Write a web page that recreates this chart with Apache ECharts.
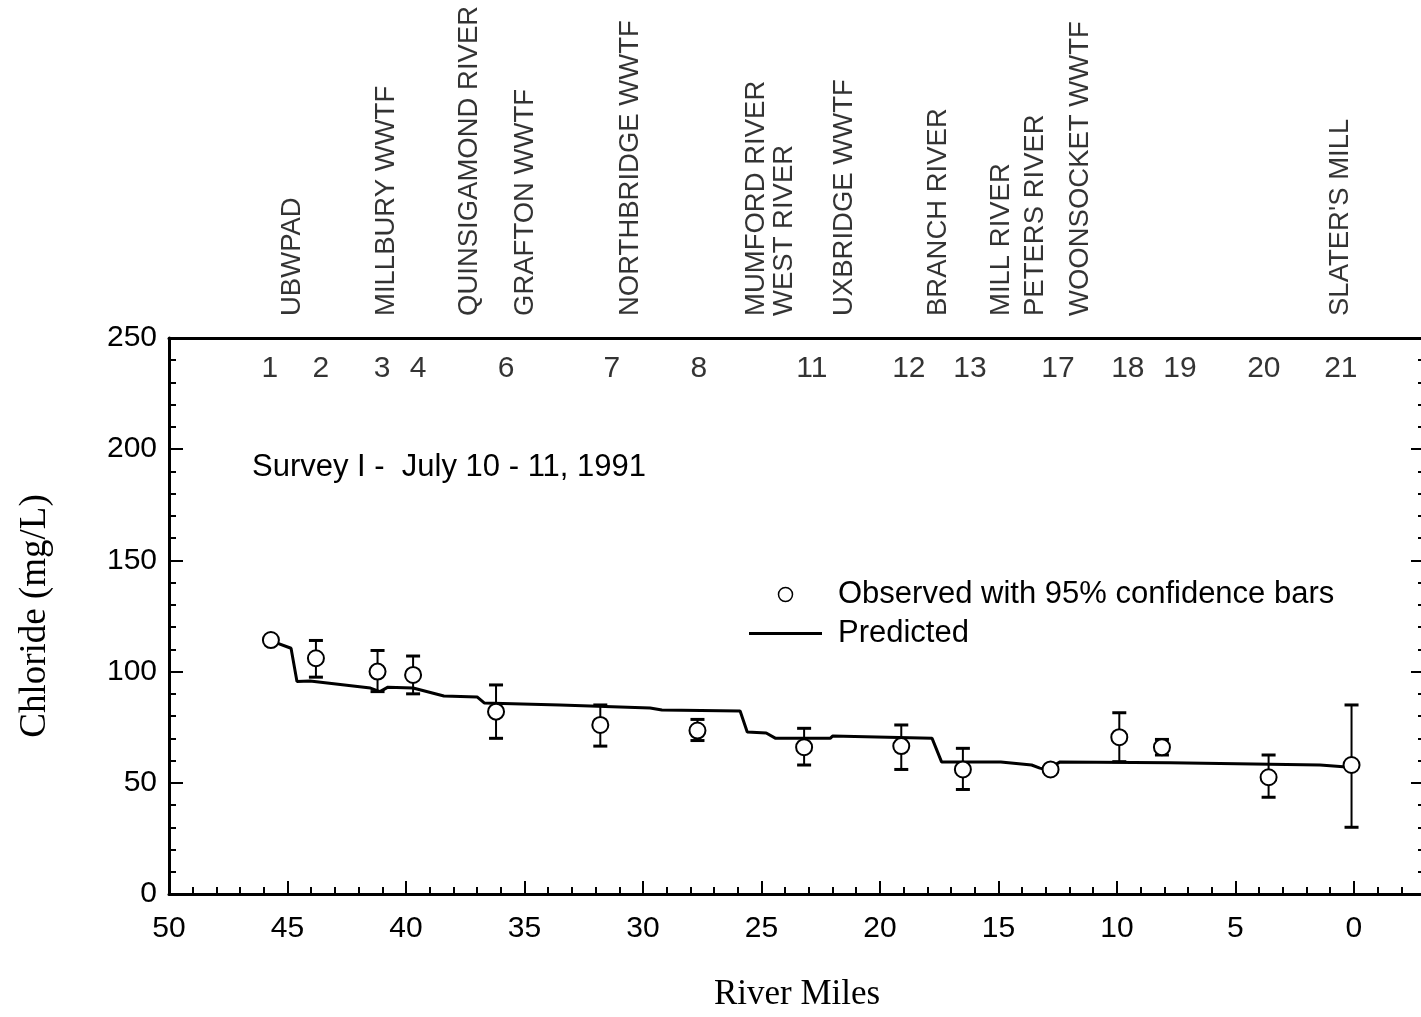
<!DOCTYPE html>
<html>
<head>
<meta charset="utf-8">
<title>Chloride - Survey I</title>
<script src="https://cdn.jsdelivr.net/npm/echarts@6/dist/echarts.min.js"></script>
<style>
  html, body { margin: 0; padding: 0; background: #fff; }
  #chart { width: 1421px; height: 1017px; }
</style>
</head>
<body>
<div id="chart"></div>
<script>
// observed stations (river mile, chloride mg/L, 95% confidence limits)
const obsMiles  = [45.7, 43.8, 41.2, 39.7, 36.2, 31.8, 27.7, 23.2, 19.1, 16.5, 12.8, 9.9, 8.1, 3.6, 0.1];
const obsValues = [114.2, 106, 100, 98.5, 82, 76, 73.5, 66, 66.5, 56, 56, 70.5, 66, 52.5, 58];
const obsLow    = [114.2, 97.5, 91, 90, 70, 66.5, 69, 58, 56, 47, 56, 59.5, 62.5, 43.5, 30];
const obsHigh   = [114.2, 114, 109.5, 107, 94, 85, 78.5, 74.5, 76, 65.5, 56, 81.5, 69.5, 62.5, 85];

// predicted profile
const predMiles  = [45.75, 44.85, 44.6, 44.05, 41.5, 41.1, 40.76, 39.7, 38.4, 37.0, 36.7, 33.5, 29.7, 29.2, 25.9, 25.6, 24.8, 24.4, 22.1, 22.0, 17.8, 17.4, 14.9, 13.6, 13.25, 12.95, 12.4, 7.76, 1.43, 0.17];
const predValues = [114, 110.5, 95.5, 95.8, 92.6, 91, 93, 92.6, 89, 88.6, 85.9, 85, 83.6, 82.7, 82.3, 72.8, 72.4, 70, 70, 71, 70, 59.4, 59.4, 58, 56.6, 55.8, 59.4, 59, 58, 57];

// sampling station numbers along the top
const stationNums  = ['1', '2', '3', '4', '6', '7', '8', '11', '12', '13', '17', '18', '19', '20', '21'];
const stationMiles = [45.74, 43.59, 41.01, 39.49, 35.78, 31.31, 27.64, 22.87, 18.78, 16.2, 12.49, 9.54, 7.34, 3.8, 0.55];

// tributaries / discharges
const sourceNames = ['UBWPAD', 'MILLBURY WWTF', 'QUINSIGAMOND RIVER', 'GRAFTON WWTF', 'NORTHBRIDGE WWTF', 'MUMFORD RIVER\nWEST RIVER', 'UXBRIDGE WWTF', 'BRANCH RIVER', 'MILL RIVER', 'PETERS RIVER', 'WOONSOCKET WWTF', "SLATER'S MILL"];
const sourceMiles = [44.81, 40.84, 37.34, 34.98, 30.55, 24.64, 21.48, 17.55, 14.89, 13.42, 11.56, 0.59];

// axis ticks
const xMajorTicks = [0, 5, 10, 15, 20, 25, 30, 35, 40, 45, 50];
const xMinorTicks = [];
for (let m = -2; m <= 50; m++) xMinorTicks.push(m);
const yMax = 250;

const sans = 'Liberation Sans';
const serif = 'Liberation Serif';

const chart = echarts.init(document.getElementById('chart'));

const xBase = { type: 'value', inverse: true, min: -3, max: 50, splitLine: { show: false } };
const yBase = {
    type: 'value', min: 0, max: yMax, interval: 50,
    axisLine: { show: true, onZero: false, lineStyle: { color: '#000', width: 3 } },
    axisTick: { show: true, inside: true, length: 14, lineStyle: { color: '#000', width: 2 } },
    minorTick: { show: true, splitNumber: 5, length: 7, lineStyle: { color: '#000', width: 2 } },
    splitLine: { show: false }
};

chart.setOption({
    animation: false,
    backgroundColor: '#fff',
    grid: { left: 169, top: 338, width: 1256, bottom: 123, outerBoundsMode: 'none', containLabel: false },
    legend: {
        orient: 'vertical',
        left: 749,
        top: 579,
        padding: 0,
        itemWidth: 73,
        itemHeight: 14,
        itemGap: 8,
        selectedMode: false,
        textStyle: { fontFamily: sans, fontSize: 31, lineHeight: 30, color: '#000', padding: [0, 0, 0, 11] },
        data: [
            { name: 'Observed with 95% confidence bars', itemStyle: { borderWidth: 1.5 } },
            { name: 'Predicted', icon: 'path://M0,0 L73,0 L73,3 L0,3 Z', itemStyle: { color: '#000' } }
        ]
    },
    graphic: [{
        type: 'text',
        x: 252,
        y: 467,
        style: { text: 'Survey I -  July 10 - 11, 1991', font: '31px "Liberation Sans"', fill: '#000', align: 'left', verticalAlign: 'middle' }
    }],
    xAxis: [
        Object.assign({}, xBase, {
            position: 'bottom',
            axisLine: { show: true, onZero: false, lineStyle: { color: '#000', width: 3 } },
            axisTick: { show: true, inside: true, length: 13, customValues: xMajorTicks, lineStyle: { color: '#000', width: 2 } },
            axisLabel: { customValues: xMajorTicks, margin: 20, fontFamily: sans, fontSize: 30, color: '#000' },
            name: 'River Miles',
            nameLocation: 'middle',
            nameGap: 83,
            nameTextStyle: { fontFamily: serif, fontSize: 35, color: '#000' }
        }),
        Object.assign({}, xBase, {
            position: 'bottom',
            axisLine: { show: false, onZero: false },
            axisTick: { show: true, inside: true, length: 7, customValues: xMinorTicks, lineStyle: { color: '#000', width: 2 } },
            axisLabel: { show: false }
        }),
        Object.assign({}, xBase, {
            position: 'top',
            axisLine: { show: true, onZero: false, lineStyle: { color: '#000', width: 3 } },
            axisTick: { show: false },
            axisLabel: { show: false }
        })
    ],
    yAxis: [
        Object.assign({}, yBase, {
            position: 'left',
            axisLabel: { margin: 12, fontFamily: sans, fontSize: 30, color: '#000' },
            name: 'Chloride (mg/L)',
            nameLocation: 'middle',
            nameGap: 115,
            nameTextStyle: { fontFamily: serif, fontSize: 37, color: '#000' }
        }),
        Object.assign({}, yBase, {
            position: 'right',
            axisLabel: { show: false }
        })
    ],
    series: [
        {
            name: 'Predicted',
            type: 'line',
            xAxisIndex: 0,
            yAxisIndex: 0,
            symbol: 'none',
            lineStyle: { color: '#000', width: 3 },
            itemStyle: { color: '#000' },
            data: predMiles.map((m, i) => [m, predValues[i]]),
            z: 2
        },
        {
            name: 'confidence',
            type: 'custom',
            xAxisIndex: 0,
            yAxisIndex: 0,
            data: obsMiles.map((m, i) => [m, obsLow[i], obsHigh[i]]),
            renderItem: function (params, api) {
                const lo = api.coord([api.value(0), api.value(1)]);
                const hi = api.coord([api.value(0), api.value(2)]);
                const w = 7;
                return {
                    type: 'group',
                    children: [
                        { type: 'line', shape: { x1: lo[0], y1: lo[1], x2: hi[0], y2: hi[1] }, style: { stroke: '#000', lineWidth: 2 } },
                        { type: 'line', shape: { x1: hi[0] - w, y1: hi[1], x2: hi[0] + w, y2: hi[1] }, style: { stroke: '#000', lineWidth: 3 } },
                        { type: 'line', shape: { x1: lo[0] - w, y1: lo[1], x2: lo[0] + w, y2: lo[1] }, style: { stroke: '#000', lineWidth: 3 } }
                    ]
                };
            },
            z: 3
        },
        {
            name: 'Observed with 95% confidence bars',
            type: 'scatter',
            xAxisIndex: 0,
            yAxisIndex: 0,
            symbol: 'circle',
            symbolSize: 16,
            itemStyle: { color: '#fff', borderColor: '#000', borderWidth: 2, opacity: 1 },
            data: obsMiles.map((m, i) => [m, obsValues[i]]),
            z: 4
        },
        {
            name: 'station numbers',
            type: 'scatter',
            xAxisIndex: 0,
            yAxisIndex: 0,
            clip: false,
            symbol: 'rect',
            symbolSize: 1,
            itemStyle: { color: 'rgba(0,0,0,0)' },
            silent: true,
            label: {
                show: true,
                position: [0.5, 31.5],
                align: 'center',
                verticalAlign: 'middle',
                fontFamily: sans,
                fontSize: 30,
                color: '#000',
                formatter: p => p.name
            },
            data: stationMiles.map((m, i) => ({ name: stationNums[i], value: [m, yMax] }))
        },
        {
            name: 'sources',
            type: 'scatter',
            xAxisIndex: 0,
            yAxisIndex: 0,
            clip: false,
            symbol: 'rect',
            symbolSize: 1,
            itemStyle: { color: 'rgba(0,0,0,0)' },
            silent: true,
            label: {
                show: true,
                position: [0.5, -21.5],
                rotate: 90,
                align: 'left',
                verticalAlign: 'middle',
                fontFamily: sans,
                fontSize: 27.5,
                lineHeight: 28,
                color: '#000',
                formatter: p => p.name
            },
            data: sourceMiles.map((m, i) => ({ name: sourceNames[i], value: [m, yMax] }))
        }
    ]
});
</script>
</body>
</html>
